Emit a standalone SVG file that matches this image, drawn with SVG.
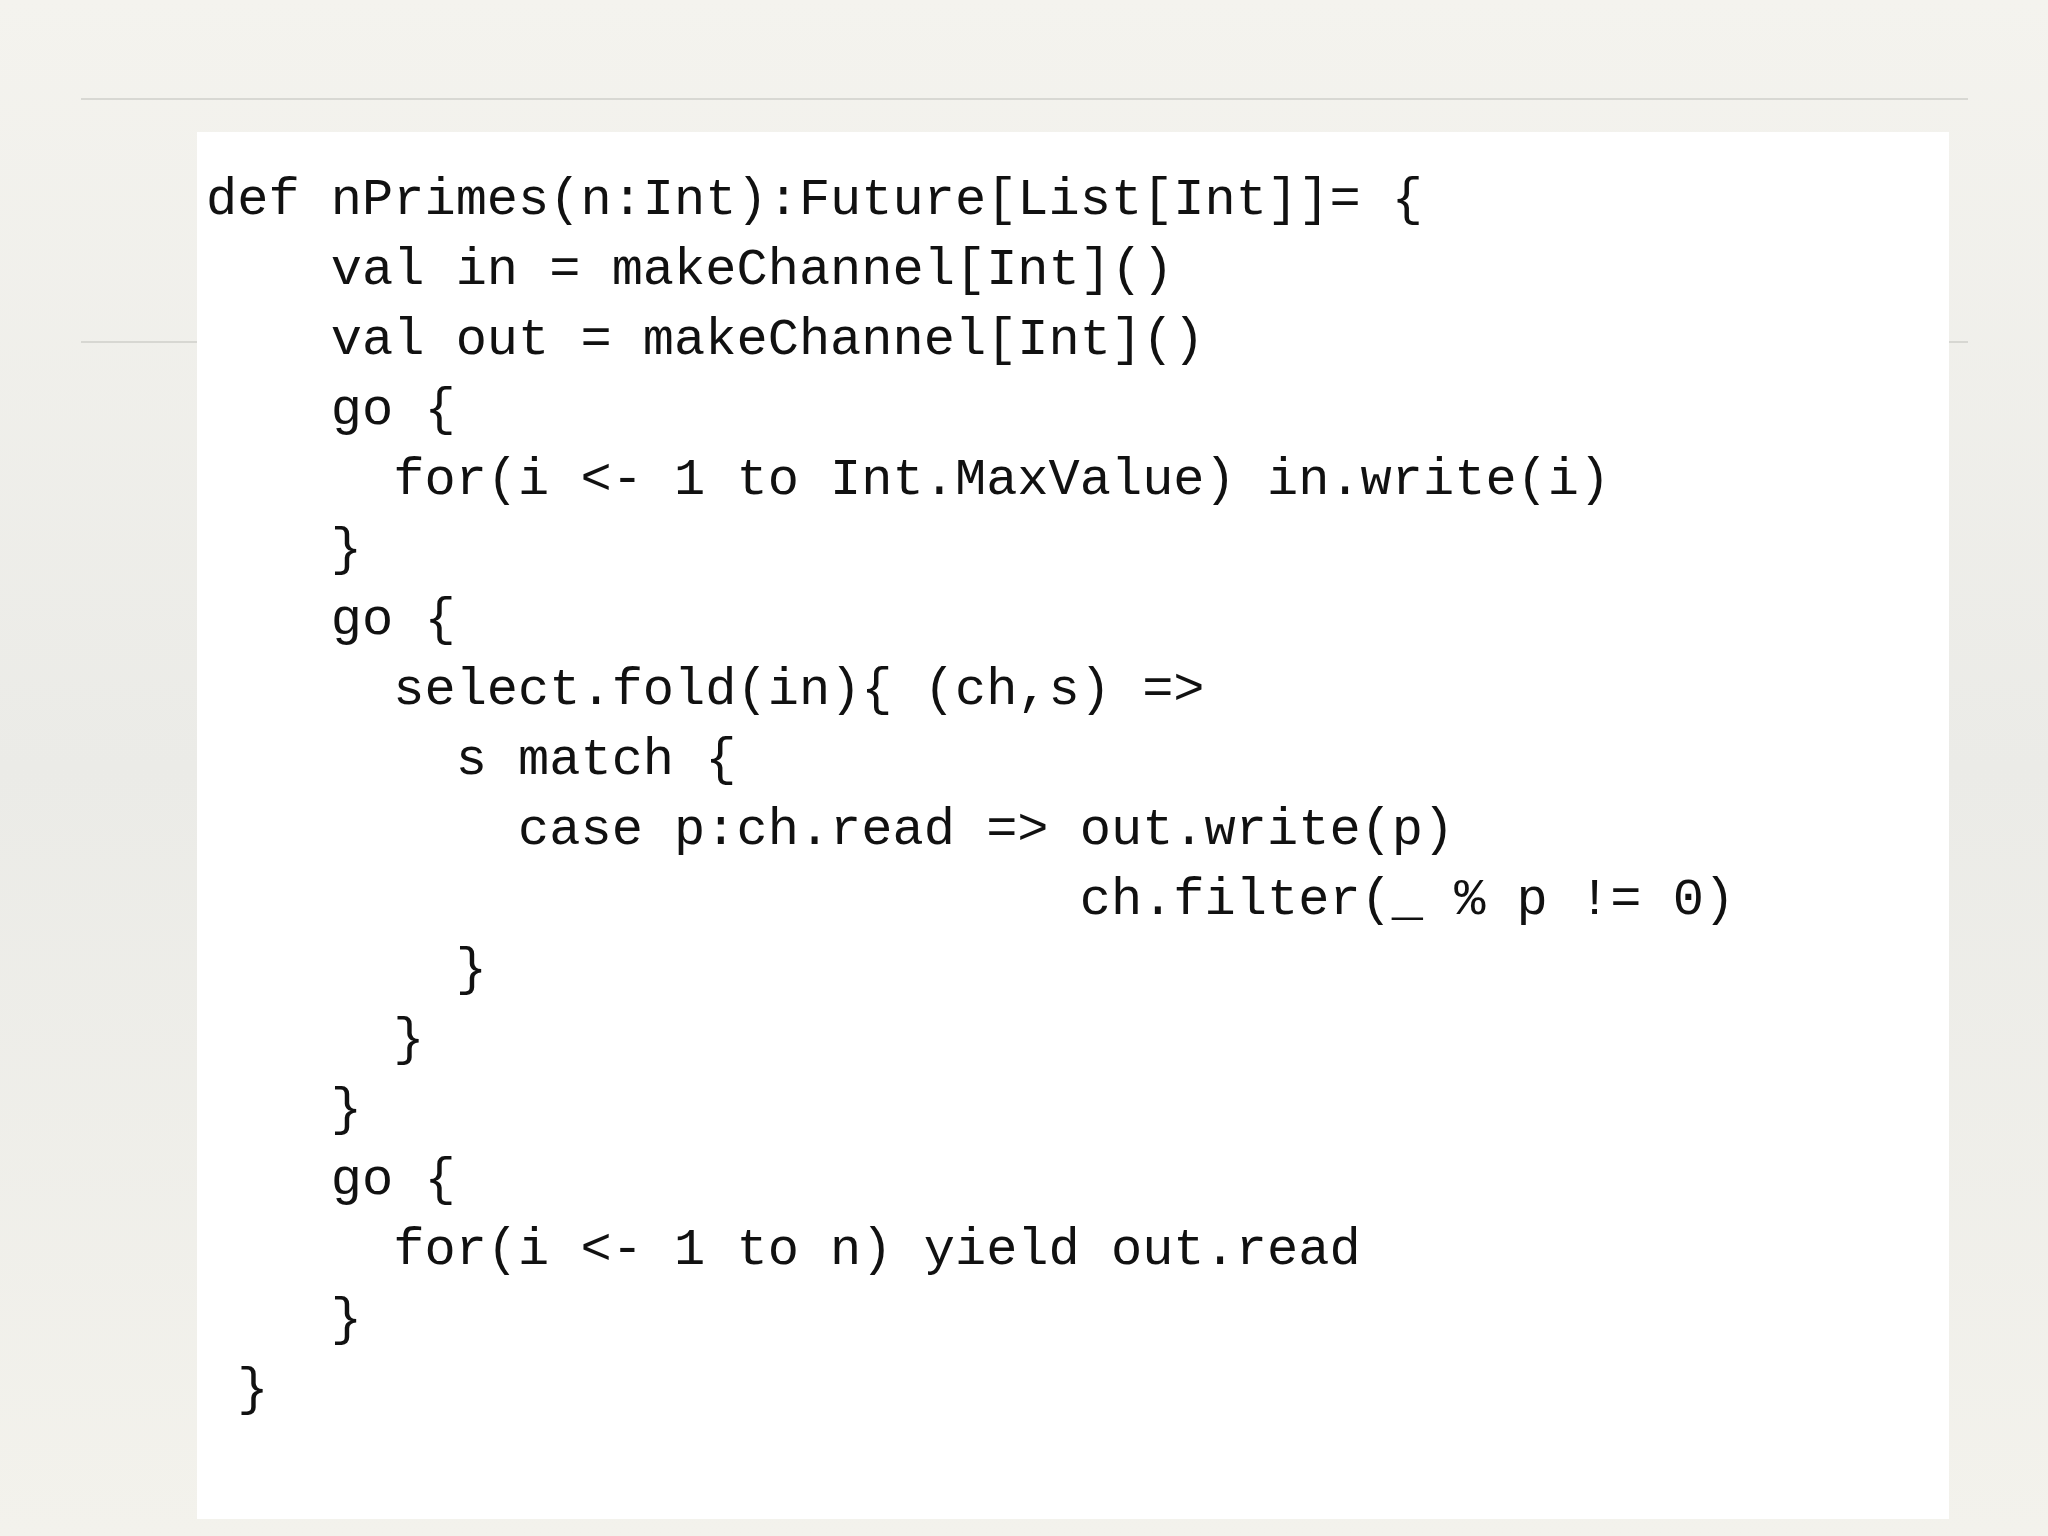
<svg xmlns="http://www.w3.org/2000/svg" width="2048" height="1536" viewBox="0 0 2048 1536">
<defs>
<linearGradient id="bg" x1="0" y1="0" x2="0" y2="1">
<stop offset="0" stop-color="#f4f3ee"/>
<stop offset="0.5" stop-color="#ebebe7"/>
<stop offset="1" stop-color="#f3f2ec"/>
</linearGradient>
<style>
.code{font-family:"Liberation Mono","DejaVu Sans Mono",monospace;font-size:52px;fill:#111;white-space:pre}
.rule{stroke:#cfcfca;stroke-width:1.5}
</style>
</defs>
<rect width="2048" height="1536" fill="url(#bg)"/>
<line class="rule" x1="81" y1="99" x2="1968" y2="99"/>
<line class="rule" x1="81" y1="342" x2="1968" y2="342"/>
<rect x="197" y="132" width="1752" height="1387" fill="#ffffff"/>
<g class="code" transform="translate(0,-3)">
<text x="206" y="217" xml:space="preserve">def nPrimes(n:Int):Future[List[Int]]= {</text>
<text x="206" y="287" xml:space="preserve">    val in = makeChannel[Int]()</text>
<text x="206" y="357" xml:space="preserve">    val out = makeChannel[Int]()</text>
<text x="206" y="427" xml:space="preserve">    go {</text>
<text x="206" y="497" xml:space="preserve">      for(i &lt;- 1 to Int.MaxValue) in.write(i)</text>
<text x="206" y="567" xml:space="preserve">    }</text>
<text x="206" y="637" xml:space="preserve">    go {</text>
<text x="206" y="707" xml:space="preserve">      select.fold(in){ (ch,s) =&gt;</text>
<text x="206" y="777" xml:space="preserve">        s match {</text>
<text x="206" y="847" xml:space="preserve">          case p:ch.read =&gt; out.write(p)</text>
<text x="206" y="917" xml:space="preserve">                            ch.filter(_ % p != 0)</text>
<text x="206" y="987" xml:space="preserve">        }</text>
<text x="206" y="1057" xml:space="preserve">      }</text>
<text x="206" y="1127" xml:space="preserve">    }</text>
<text x="206" y="1197" xml:space="preserve">    go {</text>
<text x="206" y="1267" xml:space="preserve">      for(i &lt;- 1 to n) yield out.read</text>
<text x="206" y="1337" xml:space="preserve">    }</text>
<text x="206" y="1407" xml:space="preserve"> }</text>
</g>
</svg>
